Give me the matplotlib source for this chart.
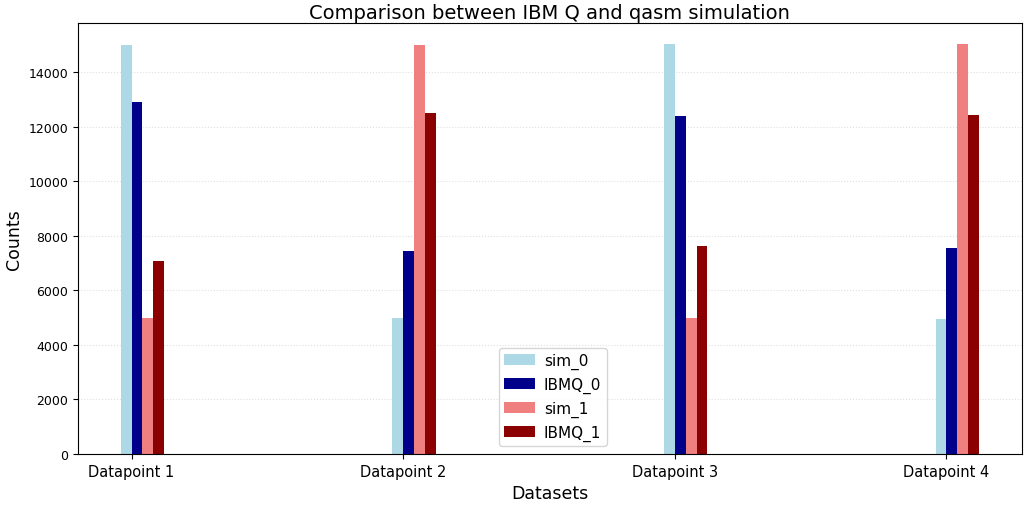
import matplotlib
matplotlib.use("Agg")
import matplotlib.pyplot as plt
import numpy as np

# counts (20000 shots per datapoint)
datasets = ["Datapoint 1", "Datapoint 2", "Datapoint 3", "Datapoint 4"]
sim_0 = [15000, 5000, 15030, 4950]
ibmq_0 = [12930, 7460, 12390, 7560]
sim_1 = [5000, 15000, 4970, 15050]
ibmq_1 = [7070, 12510, 7620, 12450]

x = np.arange(len(datasets))
width = 0.04

fig, ax = plt.subplots(figsize=(10.24, 5.06), dpi=100)
fig.subplots_adjust(left=0.076, right=0.998, top=0.952, bottom=0.101)

ax.bar(x - width / 2, sim_0, width, color='lightblue', label='sim_0')
ax.bar(x + width / 2, ibmq_0, width, color='darkblue', label='IBMQ_0')
ax.bar(x + 1.5 * width, sim_1, width, color='lightcoral', label='sim_1')
ax.bar(x + 2.5 * width, ibmq_1, width, color='darkred', label='IBMQ_1')

ax.set_title('Comparison between IBM Q and qasm simulation', fontsize=14, pad=4)
ax.set_xlabel('Datasets', fontsize=12.5)
ax.set_ylabel('Counts', fontsize=12.5)
ax.set_xticks(x)
ax.set_xticklabels(datasets, fontsize=10.5)
ax.tick_params(axis='y', labelsize=9)
ax.grid(True, axis='y', linestyle=':', color='lightgray', alpha=0.7)
ax.set_axisbelow(True)
ax.legend(loc='lower center', fontsize=11, borderpad=0.35, handletextpad=0.6,
          bbox_to_anchor=(0.503, 0.0))

plt.savefig('out.png', dpi=100)
